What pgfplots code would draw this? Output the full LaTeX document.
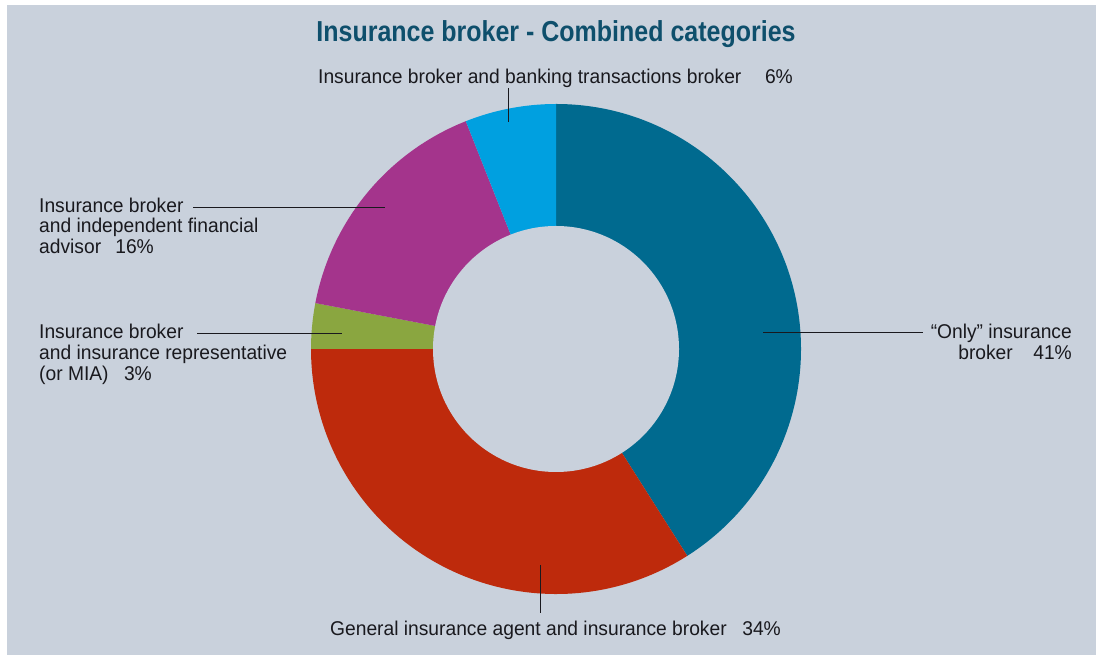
\documentclass[border=0pt]{standalone}
\usepackage{fontspec}
\setmainfont{Liberation Sans}[FakeStretch=0.965]
\newfontfamily\titlefont{Liberation Sans}[FakeStretch=0.865]
\usepackage{pgfplots}
\usepackage{pgfplotstable}
\pgfplotsset{compat=1.18}
\definecolor{bg}{RGB}{201,209,220}
\definecolor{titlecol}{RGB}{14,79,108}
\definecolor{txt}{RGB}{25,25,30}
\definecolor{slice0}{RGB}{0,106,143}
\definecolor{slice1}{RGB}{190,42,12}
\definecolor{slice2}{RGB}{138,166,64}
\definecolor{slice3}{RGB}{164,52,140}
\definecolor{slice4}{RGB}{0,160,224}

\pgfplotstableread{
share
41
34
3
16
6
}\sharetable

\gdef\curang{90}
\pgfplotsforeachungrouped \i in {0,...,4}{%
  \pgfplotstablegetelem{\i}{share}\of\sharetable
  \pgfmathsetmacro\endang{\curang-3.6*\pgfplotsretval}%
  \expandafter\xdef\csname sa\i\endcsname{\curang}%
  \expandafter\xdef\csname ea\i\endcsname{\endang}%
  \xdef\curang{\endang}%
}

\begin{document}
\begin{tikzpicture}
\begin{axis}[
  scale only axis, width=1096bp, height=655bp,
  xmin=0, xmax=1096, ymin=0, ymax=655,
  hide axis, clip=false,
]
\fill[white] (axis cs:0,0) rectangle (axis cs:1096,655);
\fill[bg] (axis cs:7,0) rectangle (axis cs:1096,650);
\pgfplotsinvokeforeach{0,...,4}{%
  \fill[slice#1] (axis cs:556,306) -- ++(\csname sa#1\endcsname:245bp)
    arc[start angle=\csname sa#1\endcsname, end angle=\csname ea#1\endcsname, radius=245bp] -- cycle;
}
\fill[bg] (axis cs:556,306) circle[radius=123bp];

% leader lines
\draw[txt, line width=0.8bp] (axis cs:508,567) -- (axis cs:508,533);
\draw[txt, line width=0.8bp] (axis cs:193,447.7) -- (axis cs:385,447.7);
\draw[txt, line width=0.8bp] (axis cs:197,321.7) -- (axis cs:342,321.7);
\draw[txt, line width=0.8bp] (axis cs:763,322.7) -- (axis cs:923,322.7);
\draw[txt, line width=0.8bp] (axis cs:540.7,90) -- (axis cs:540.7,42.3);

% title
\node[anchor=base, text=titlecol, inner sep=0pt, font=\titlefont\bfseries\fontsize{29}{32}\selectfont]
  at (axis cs:556,613) {Insurance broker - Combined categories};

\tikzset{lbl/.style={inner sep=0pt, text=txt, font=\fontsize{20}{21}\selectfont}}
% top
\node[lbl, anchor=base west] at (axis cs:318,571) {Insurance broker and banking transactions broker};
\node[lbl, anchor=base east] at (axis cs:793,571) {6\%};
% magenta
\node[lbl, anchor=base west] at (axis cs:39,442.3) {Insurance broker};
\node[lbl, anchor=base west] at (axis cs:39,422) {and independent financial};
\node[lbl, anchor=base west] at (axis cs:39,401) {advisor};
\node[lbl, anchor=base east] at (axis cs:154,401) {16\%};
% green
\node[lbl, anchor=base west] at (axis cs:39,316) {Insurance broker};
\node[lbl, anchor=base west] at (axis cs:39,295) {and insurance representative};
\node[lbl, anchor=base west] at (axis cs:39,274) {(or MIA)};
\node[lbl, anchor=base east] at (axis cs:152,274) {3\%};
% right
\node[lbl, anchor=base east] at (axis cs:1072,316) {“Only” insurance};
\node[lbl, anchor=base east] at (axis cs:1013,295) {broker};
\node[lbl, anchor=base east] at (axis cs:1072,295) {41\%};
% bottom
\node[lbl, anchor=base west] at (axis cs:330,20) {General insurance agent and insurance broker};
\node[lbl, anchor=base east] at (axis cs:781,20) {34\%};
\end{axis}
\end{tikzpicture}
\end{document}
